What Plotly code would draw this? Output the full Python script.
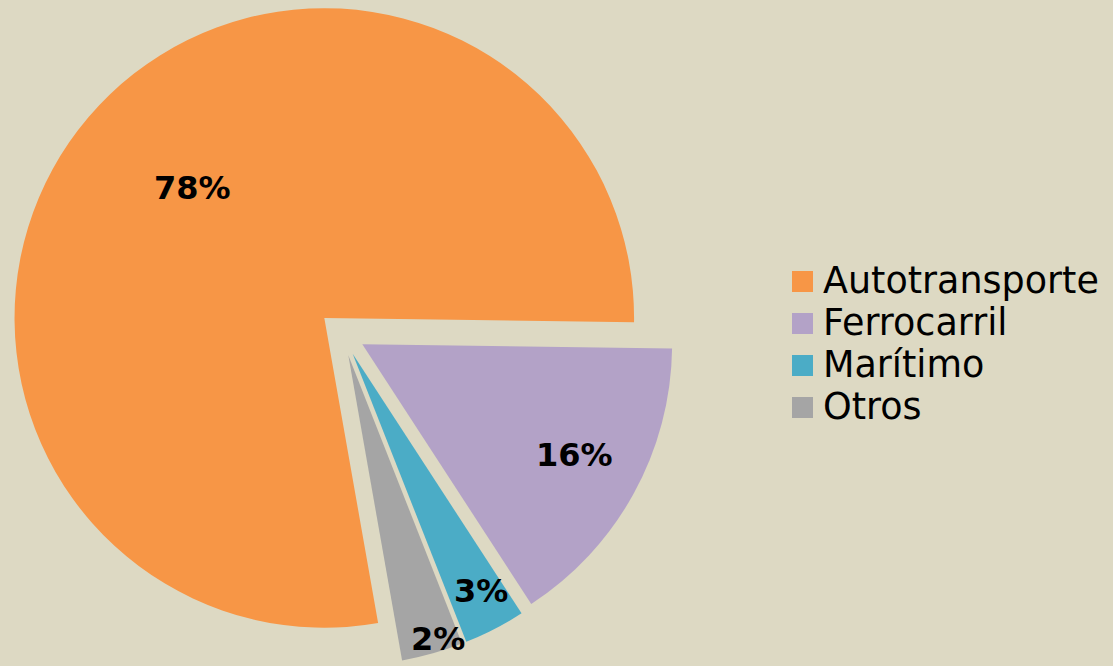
import math
import plotly.graph_objects as go

# ---- data ----
categories = ["Autotransporte", "Ferrocarril", "Marítimo", "Otros"]
shares = [78.0, 15.6, 3.2, 3.2]          # slice sizes (as drawn)
pct_labels = ["78%", "16%", "3%", "2%"]  # printed labels
colors = ["#F79646", "#B3A2C7", "#4BACC6", "#A5A5A5"]

# ---- style / layout constants ----
W, H = 1113, 666
BG = "#DDD9C3"
PULL = 0.075
ROTATION = 170
CX = 342.0                       # pie centre x (px)
R = H / (2 + 2 * PULL)           # plotly pie radius for a full-height domain
CY = H / 2
label_r = [0.596, 0.772, 0.872, 0.959]     # radial position of labels (fraction of r)
label_shift = [4.2, -1.4, -1.1, -1.75]     # angular nudge of labels (deg)
LABEL_FONT = dict(family="DejaVu Sans", size=32, color="black")
LEG_FONT = dict(family="DejaVu Sans", size=36.5, color="black")
LEG_SW_X0, LEG_SW = 792, 21
LEG_Y0, LEG_DY, LEG_TX = 281.5, 42, 821

fig = go.Figure(
    go.Pie(
        labels=categories,
        values=shares,
        marker=dict(colors=colors, line=dict(width=0)),
        pull=[PULL] * len(shares),
        sort=False,
        direction="clockwise",
        rotation=ROTATION,
        textinfo="none",
        hoverinfo="label+percent",
        showlegend=False,
        domain=dict(x=[0, 2 * CX / W], y=[0, 1]),
    )
)

# data labels, positioned from the slice angles
total = sum(shares)
cum = 0.0
for i, v in enumerate(shares):
    a0 = ROTATION + 360 * cum / total
    a1 = ROTATION + 360 * (cum + v) / total
    cum += v
    mid = math.radians((a0 + a1) / 2)
    pcx = CX + PULL * R * math.sin(mid)
    pcy = CY - PULL * R * math.cos(mid)
    ang = math.radians((a0 + a1) / 2 + label_shift[i])
    lx = pcx + label_r[i] * R * math.sin(ang)
    ly = pcy - label_r[i] * R * math.cos(ang)
    fig.add_annotation(
        x=lx / W, y=1 - ly / H, xref="paper", yref="paper",
        text="<b>%s</b>" % pct_labels[i], showarrow=False,
        xanchor="center", yanchor="middle", font=LABEL_FONT,
    )

# legend
for i, name in enumerate(categories):
    yc = LEG_Y0 + LEG_DY * i
    fig.add_shape(
        type="rect", xref="paper", yref="paper",
        x0=LEG_SW_X0 / W, x1=(LEG_SW_X0 + LEG_SW) / W,
        y0=1 - (yc - LEG_SW / 2) / H, y1=1 - (yc + LEG_SW / 2) / H,
        fillcolor=colors[i], line=dict(width=0),
    )
    fig.add_annotation(
        x=LEG_TX / W, y=1 - (yc - 1.5) / H, xref="paper", yref="paper",
        text=name, showarrow=False, xanchor="left", yanchor="middle",
        font=LEG_FONT,
    )

fig.update_layout(
    width=W, height=H,
    margin=dict(l=0, r=0, t=0, b=0),
    paper_bgcolor=BG, plot_bgcolor=BG,
    showlegend=False,
)

fig.write_html(
    "out.html",
    config={"displayModeBar": False},
    post_script="document.body.style.margin='0';document.body.style.overflow='hidden';",
)
